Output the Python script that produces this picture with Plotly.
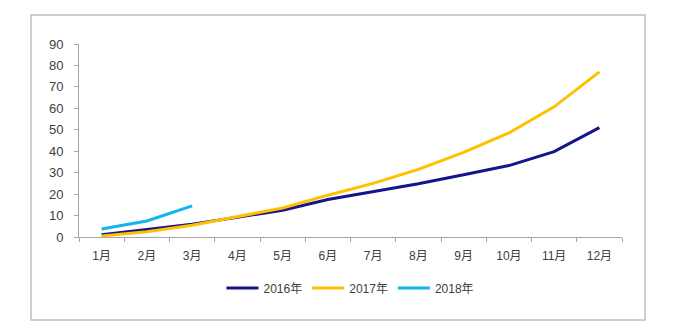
import plotly.graph_objects as go

months = ["1月", "2月", "3月", "4月", "5月", "6月", "7月", "8月", "9月", "10月", "11月", "12月"]
s2016 = [1.0, 3.5, 6.0, 9.2, 12.5, 17.5, 21.0, 24.8, 29.0, 33.3, 39.8, 51.0]
s2017 = [0.5, 2.5, 5.5, 9.5, 13.5, 19.5, 25.0, 31.5, 39.5, 48.5, 60.7, 77.0]
s2018 = [3.7, 7.5, 14.5]
y_ticks = [0, 10, 20, 30, 40, 50, 60, 70, 80, 90]

FONT = "Liberation Sans Narrow, Arial Narrow, Liberation Sans, Noto Sans CJK SC"

fig = go.Figure()
fig.add_trace(go.Scatter(x=months, y=s2016, mode="lines", name="2016年",
                         line=dict(color="#14148C", width=3)))
fig.add_trace(go.Scatter(x=months, y=s2017, mode="lines", name="2017年",
                         line=dict(color="#FFC000", width=3)))
fig.add_trace(go.Scatter(x=months[:len(s2018)], y=s2018, mode="lines", name="2018年",
                         line=dict(color="#14B4EC", width=3)))

fig.update_layout(
    width=680, height=330,
    margin=dict(l=79, r=58, t=44, b=93),
    paper_bgcolor="white", plot_bgcolor="white",
    font=dict(family=FONT, size=12, color="#404040"),
    showlegend=True,
    legend=dict(orientation="h", x=0.5, xanchor="center", y=-0.264, yanchor="middle",
                font=dict(size=12, color="#404040"), itemwidth=32, tracegroupgap=0),
    shapes=[dict(type="rect", xref="paper", yref="paper",
                 x0=-0.0884, x1=1.0424, y0=-0.430, y1=1.150,
                 line=dict(color="#BFBFBF", width=1.5), fillcolor="rgba(0,0,0,0)", layer="below")],
)
fig.update_xaxes(type="category", range=[-0.5, 11.5], showline=True, linecolor="#A6A6A6",
                 linewidth=1, ticks="outside", tickson="boundaries", ticklen=4,
                 tickcolor="#A6A6A6", showgrid=False, zeroline=False,
                 ticklabelstandoff=8, tickfont=dict(size=12, color="#404040"))
fig.update_yaxes(range=[0, 90], tickvals=y_ticks, showline=True, linecolor="#A6A6A6",
                 linewidth=1, ticks="outside", ticklen=4, tickcolor="#A6A6A6",
                 showgrid=False, zeroline=False, ticklabelstandoff=8,
                 tickfont=dict(size=13, color="#404040"))

fig.write_html("out.html")
